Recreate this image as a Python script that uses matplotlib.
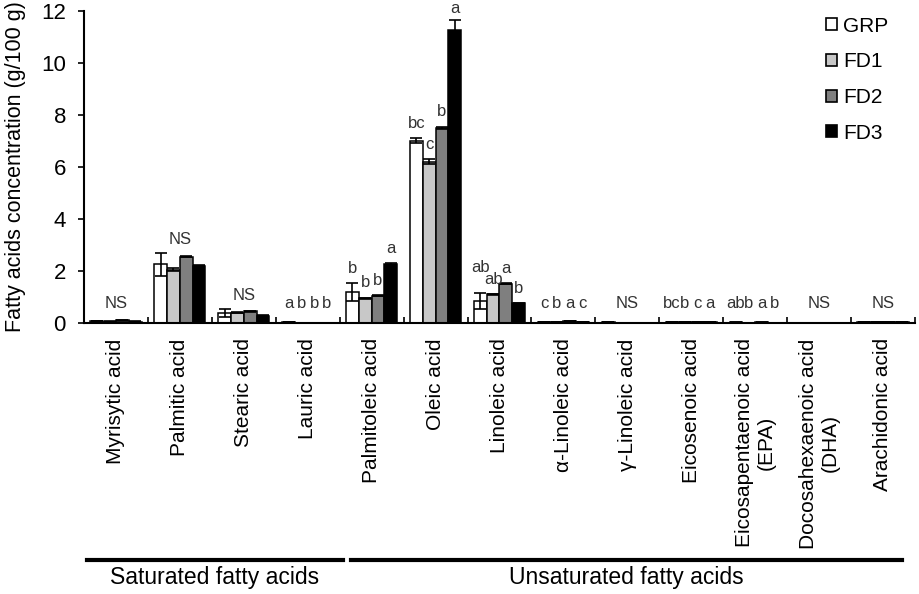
import numpy as np
import matplotlib
matplotlib.use('Agg')
import matplotlib.pyplot as plt
from matplotlib.patches import Patch
from matplotlib.lines import Line2D
from matplotlib.transforms import blended_transform_factory

plt.rcParams['font.family'] = ['Liberation Sans', 'DejaVu Sans']

# fatty acids on the x axis
acids = ['Myrisytic acid', 'Palmitic acid', 'Stearic acid', 'Lauric acid',
         'Palmitoleic acid', 'Oleic acid', 'Linoleic acid', 'α-Linoleic acid',
         'γ-Linoleic acid', 'Eicosenoic acid', 'Eicosapentaenoic acid\n(EPA)',
         'Docosahexaenoic acid\n(DHA)', 'Arachidonic acid']
groups = ['GRP', 'FD1', 'FD2', 'FD3']

# concentration g/100 g
grp = [0.07, 2.25, 0.40, 0.03, 1.20, 7.00, 0.85, 0.03, 0.02, 0.03, 0.02, 0.0, 0.03]
fd1 = [0.05, 2.05, 0.40, 0.005, 0.95, 6.20, 1.10, 0.03, 0.0, 0.03, 0.0, 0.0, 0.03]
fd2 = [0.10, 2.55, 0.45, 0.005, 1.05, 7.50, 1.50, 0.08, 0.0, 0.03, 0.02, 0.0, 0.03]
fd3 = [0.05, 2.20, 0.28, 0.005, 2.27, 11.25, 0.75, 0.03, 0.0, 0.03, 0.0, 0.0, 0.03]

# standard errors
grp_err = [0.01, 0.45, 0.15, 0.01, 0.35, 0.10, 0.30, 0.01, 0.0, 0.01, 0.01, 0.0, 0.01]
fd1_err = [0.01, 0.05, 0.02, 0.0, 0.03, 0.10, 0.03, 0.01, 0.0, 0.01, 0.0, 0.0, 0.01]
fd2_err = [0.02, 0.02, 0.02, 0.0, 0.02, 0.05, 0.02, 0.01, 0.0, 0.01, 0.01, 0.0, 0.01]
fd3_err = [0.01, 0.02, 0.02, 0.0, 0.04, 0.40, 0.02, 0.01, 0.0, 0.01, 0.0, 0.0, 0.01]

# significance letters; a single entry = NS for the whole group
letters = [['NS'], ['NS'], ['NS'], ['a', 'b', 'b', 'b'], ['b', 'b', 'b', 'a'],
           ['bc', 'c', 'b', 'a'], ['ab', 'ab', 'a', 'b'], ['c', 'b', 'a', 'c'], ['NS'],
           ['bc', 'b', 'c', 'a'], ['ab', 'b', 'a', 'b'], ['NS'], ['NS']]

fig = plt.figure(figsize=(9.19, 5.94), dpi=100)
ax = fig.add_axes([0.0914, 0.4562, 0.9042, 0.5258])

vals = [grp, fd1, fd2, fd3]
errs = [grp_err, fd1_err, fd2_err, fd3_err]
colors = ['white', '#c8c8c8', '#7f7f7f', 'black']
x = np.arange(len(acids)) + 0.5
w = 0.2
for k in range(4):
    pos = x + (k - 1.5) * w
    ax.bar(pos, vals[k], w, color=colors[k], edgecolor='black', linewidth=1.1, zorder=2)
    ax.errorbar(pos, vals[k], yerr=errs[k], fmt='none', ecolor='black',
                elinewidth=1.2, capsize=4, capthick=1.2, zorder=3)

# letters above the bars
lab_kw = dict(ha='center', va='bottom', fontsize=12, color='#333333')
for i in range(len(acids)):
    tops = [vals[k][i] + errs[k][i] for k in range(4)]
    if len(letters[i]) == 1:
        y = max(max(tops) + 0.22, 0.45)
        ax.text(x[i], y, letters[i][0], **lab_kw)
    else:
        ys = [min(max(t + 0.27, 0.45), 11.78) for t in tops]
        for k in range(3):
            # two wide labels side by side at similar height: lift the left one
            if len(letters[i][k]) > 1 and len(letters[i][k + 1]) > 1 and abs(ys[k] - ys[k + 1]) < 0.4:
                ys[k] = ys[k + 1] + 0.45
        for k in range(4):
            ax.text(x[i] + (k - 1.5) * w, ys[k], letters[i][k], **lab_kw)

ax.set_xlim(0, len(acids))
ax.set_ylim(0, 12)
ax.set_yticks(np.arange(0, 13, 2))
ax.tick_params(axis='y', labelsize=16, direction='out', length=4, width=1.2, pad=9)
ax.set_xticks(np.arange(0, len(acids) + 1))
ax.set_xticklabels([])
ax.tick_params(axis='x', which='major', direction='in', length=4, width=1.2)
ax.set_xticks(x, minor=True)
ax.set_xticklabels(acids, minor=True, rotation=90, fontsize=15, va='top', ha='center')
ax.tick_params(axis='x', which='minor', length=0, pad=11)
for s in ['top', 'right']:
    ax.spines[s].set_visible(False)
for s in ['left', 'bottom']:
    ax.spines[s].set_linewidth(1.5)
ax.set_ylabel('Fatty acids concentration (g/100 g)', fontsize=15.5)
ax.yaxis.set_label_coords(-0.07, 0.5)

handles = [Patch(facecolor=c, edgecolor='black', linewidth=1.2) for c in colors]
ax.legend(handles, groups, loc='upper left', bbox_to_anchor=(0.899, 0.972),
          bbox_transform=fig.transFigure, frameon=False, fontsize=15,
          handlelength=0.5, handleheight=0.5, handletextpad=0.3,
          labelspacing=0.8, borderpad=0, borderaxespad=0)

# group brackets below the labels
tr = blended_transform_factory(ax.transData, fig.transFigure)
brackets = [('Saturated fatty acids', 0.05, 4.05), ('Unsaturated fatty acids', 4.18, 12.79)]
for name, x0, x1 in brackets:
    fig.add_artist(Line2D([x0, x1], [0.057, 0.057], transform=tr, color='black', linewidth=3))
    fig.text((x0 + x1) / 2, 0.027, name, transform=tr, ha='center', va='center', fontsize=16.5)

fig.savefig('out.png', dpi=100)
